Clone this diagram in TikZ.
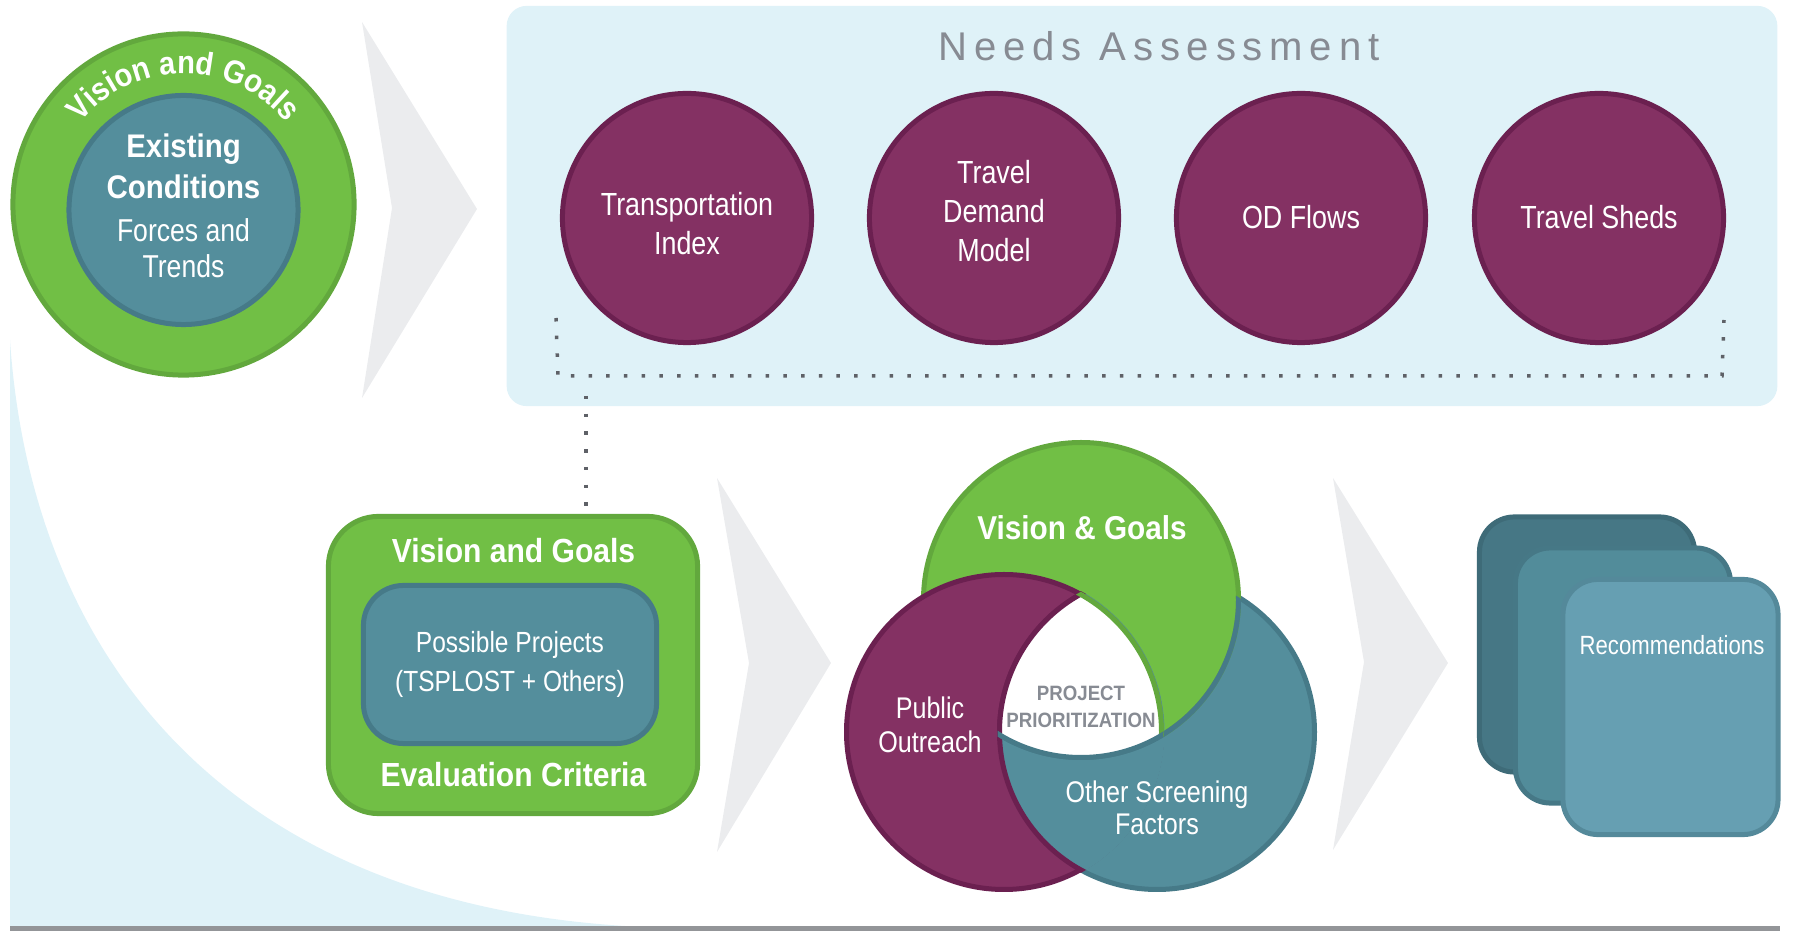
\documentclass[tikz,border=0pt]{standalone}
\usepackage{fontspec}
\usepackage{xcolor}
\usetikzlibrary{decorations.text}
\setmainfont{Liberation Sans}
\newfontfamily\condfont{Liberation Sans}[FakeStretch=0.84]
\newfontfamily\condbold{Liberation Sans}[FakeStretch=0.9]
\newfontfamily\widefont{Liberation Sans}[LetterSpace=17]
\newcommand{\ringfont}{\condbold\bfseries\fontsize{9.2pt}{10pt}\selectfont}

\definecolor{skyback}{RGB}{223,242,248}
\definecolor{chevgray}{RGB}{235,236,238}
\definecolor{leafgreen}{RGB}{113,191,69}
\definecolor{leafedge}{RGB}{98,168,61}
\definecolor{tealfill}{RGB}{84,142,156}
\definecolor{tealedge}{RGB}{70,122,136}
\definecolor{plumfill}{RGB}{132,49,99}
\definecolor{plumedge}{RGB}{107,32,80}
\definecolor{labelgray}{RGB}{135,139,147}
\definecolor{dotgray}{RGB}{94,97,103}
\definecolor{bargray}{RGB}{147,149,152}
\definecolor{recback}{RGB}{70,119,133}
\definecolor{recbackedge}{RGB}{62,107,120}
\definecolor{recmid}{RGB}{82,140,154}
\definecolor{recmidedge}{RGB}{70,120,134}
\definecolor{recfront}{RGB}{102,159,178}
\definecolor{recfrontedge}{RGB}{84,137,154}

\begin{document}
\begin{tikzpicture}[x=0.01cm, y=-0.01cm,
    rim/.style={line width=0.05cm},
    chevron/.style={fill=chevgray},
    plumdisc/.style={circle, fill=plumfill, draw=plumedge, rim, minimum size=2.49cm, inner sep=0pt},
    disctext/.style={text=white, inner sep=0pt, align=center,
      font=\condfont\fontsize{9.1pt}{11.1pt}\selectfont},
    dotline/.style={draw=dotgray, line width=0.035cm, dash pattern=on 0.035cm off 0.142cm},
    whitebold/.style={text=white, inner sep=0pt, font=\condbold\bfseries\fontsize{9.5pt}{11pt}\selectfont},
    whitethin/.style={text=white, inner sep=0pt, align=center},
    recard/.style={rim, rounded corners=0.35cm, minimum width=2.15cm, minimum height=2.55cm}]
    \useasboundingbox (0,0) rectangle (1793,931);

    % Sky swoosh behind the lower row, and the base rule
    \fill[skyback] (10,340) .. controls (30,640) and (210,900) .. (625,926) -- (10,926) -- cycle;
    \fill[bargray] (10,926) rectangle (1780,931);

    % Chevrons between the steps
    \fill[chevron] (362,22) -- (477,209) -- (362,398) -- (392,208) -- cycle;
    \fill[chevron] (717,478) -- (831,663) -- (717,852) -- (749,663) -- cycle;
    \fill[chevron] (1333,478) -- (1448,663) -- (1333,850) -- (1364,662) -- cycle;

    % Vision and Goals ring round Existing Conditions
    \node[circle, fill=leafgreen, draw=leafedge, rim, minimum size=3.41cm] (ring) at (183.5,204.5) {};
    \node[circle, fill=tealfill, draw=tealedge, rim, minimum size=2.29cm] (core) at (183.5,210) {};
    \path[decorate, decoration={text along path, text align=center, text color=white,
        text={|\ringfont|Vision and Goals}}]
        (ring.center) ++(208:131) arc (208:332:131);
    \node[whitebold, font=\condbold\bfseries\fontsize{9.3pt}{10pt}\selectfont, anchor=base] (exist) at (183.5,158) {Existing};
    \node[whitebold, font=\condbold\bfseries\fontsize{9.3pt}{10pt}\selectfont, anchor=base] (cond) at (183.5,199) {Conditions};
    \node[whitethin, font=\condfont\fontsize{9pt}{10pt}\selectfont, anchor=base] (forces) at (183.5,242) {Forces and};
    \node[whitethin, font=\condfont\fontsize{9pt}{10pt}\selectfont, anchor=base] (trends) at (183.5,278) {Trends};

    % Needs Assessment panel
    \node[fill=skyback, rounded corners=0.2cm, minimum width=12.7cm, minimum height=4cm] (needs) at (1142,206) {};
    \node[text=labelgray, inner sep=0pt, anchor=base, font=\widefont\fontsize{11.4pt}{13pt}\selectfont] (needslbl) at (1159,61) {Needs Assessment};
    \node[plumdisc] (tindex) at (687,218) {};
    \node[plumdisc] (demand) at (994,218) {};
    \node[plumdisc] (odflows) at (1301,218) {};
    \node[plumdisc] (sheds) at (1599,218) {};
    \node[disctext] (tindextxt) at (687,224) {Transportation\\Index};
    \node[disctext] (demandtxt) at (994,211) {Travel\\Demand\\Model};
    \node[disctext] (odflowstxt) at (1301,217) {OD Flows};
    \node[disctext] (shedstxt) at (1599,217) {Travel Sheds};

    % Dotted bracket and drop to the project box
    \coordinate (bktl) at (556,318);
    \coordinate (bkbl) at (558,376);
    \coordinate (bkbr) at (1722,376);
    \coordinate (bktr) at (1724,320);
    \draw[dotline] (bktl) -- (bkbl) -- (bkbr) -- (bktr);

    % Vision and Goals box
    \node[fill=leafgreen, draw=leafedge, rim, rounded corners=0.5cm, minimum width=3.69cm, minimum height=2.97cm] (vgbox) at (513,665) {};
    \node[fill=tealfill, draw=tealedge, rim, rounded corners=0.4cm, minimum width=2.93cm, minimum height=1.58cm,
        whitethin, font=\condfont\fontsize{8.3pt}{11.1pt}\selectfont] (projects) at (510,664.5) {Possible Projects\\(TSPLOST + Others)};
    \node[whitebold, anchor=base] (vgtitle) at (513.5,563) {Vision and Goals};
    \node[whitebold, anchor=base] (evalcrit) at (513.5,787) {Evaluation Criteria};
    \coordinate (drop) at (586,396);
    \draw[dotline] (drop) -- (drop |- vgbox.north);

    % Three-way screen
    \coordinate (vg) at (1081,600);
    \coordinate (po) at (1004,732);
    \coordinate (sf) at (1157,732);
    \draw[fill=tealfill, draw=tealedge, rim] (sf) circle (157.5);
    \draw[fill=leafgreen, draw=leafedge, rim] (vg) circle (157.5);
    \draw[fill=plumfill, draw=plumedge, rim] (po) circle (157.5);
    \begin{scope}
        \clip (po) circle (160.5);
        \fill[tealfill] (sf) circle (157.5);
        \draw[plumedge, rim] (sf) circle (157.5);
    \end{scope}
    \begin{scope}
        \clip (sf) circle (157.5);
        \draw[tealedge, rim] (vg) circle (157.5);
    \end{scope}
    \begin{scope}
        \clip (po) circle (157.5);
        \clip (sf) circle (157.5);
        \fill[white] (vg) circle (157.5);
    \end{scope}
    \begin{scope}
        \clip (po) circle (159.5); \clip (vg) circle (159.5);
        \draw[plumedge, rim] (sf) circle (157.5);
    \end{scope}
    \begin{scope}
        \clip (sf) circle (159.5); \clip (vg) circle (159.5);
        \draw[leafedge, rim] (po) circle (157.5);
    \end{scope}
    \begin{scope}
        \clip (po) circle (159.5); \clip (sf) circle (159.5);
        \draw[tealedge, rim] (vg) circle (157.5);
    \end{scope}
    \node[whitebold, font=\condbold\bfseries\fontsize{9.4pt}{11pt}\selectfont, anchor=base] (vennvg) at (1082,540) {Vision \& Goals};
    \node[whitethin, font=\condfont\fontsize{8.5pt}{9.7pt}\selectfont] (pubout) at (930,725) {Public\\Outreach};
    \node[whitethin, font=\condfont\fontsize{8.5pt}{9.1pt}\selectfont] (screen) at (1157,808) {Other Screening\\Factors};
    \node[text=labelgray, inner sep=0pt, align=center, font=\condbold\bfseries\fontsize{5.9pt}{7.6pt}\selectfont] (prio) at (1081,707) {PROJECT\\PRIORITIZATION};

    % Stack of recommendation cards
    \node[recard, fill=recback, draw=recbackedge] (cardback) at (1587,644.5) {};
    \node[recard, fill=recmid, draw=recmidedge] (cardmid) at (1623,675.5) {};
    \node[recard, fill=recfront, draw=recfrontedge] (cardfront) at (1670.5,707) {};
    \node[whitethin, font=\condfont\fontsize{7.5pt}{9pt}\selectfont, anchor=base] (rectext) at (1672,655) {Recommendations};
\end{tikzpicture}
\end{document}
